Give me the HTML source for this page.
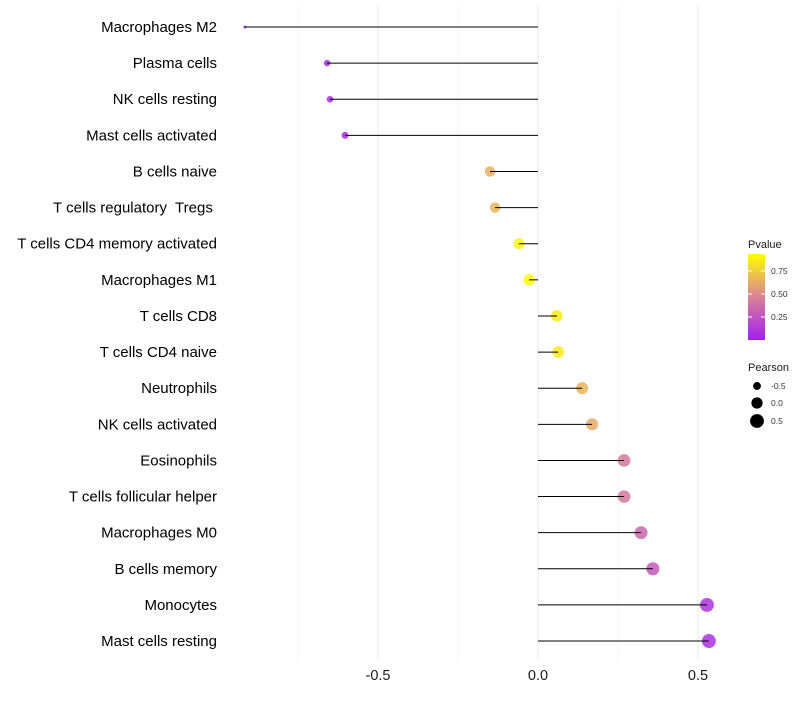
<!DOCTYPE html>
<html><head><meta charset="utf-8"><style>body{margin:0;background:#fff}svg{font-family:"Liberation Sans",sans-serif}</style></head>
<body>
<svg id="c" width="800" height="700"></svg>
<script>
const categories=["Macrophages M2","Plasma cells","NK cells resting","Mast cells activated","B cells naive","T cells regulatory  Tregs ","T cells CD4 memory activated","Macrophages M1","T cells CD8","T cells CD4 naive","Neutrophils","NK cells activated","Eosinophils","T cells follicular helper","Macrophages M0","B cells memory","Monocytes","Mast cells resting"];
const pearson=[-0.916,-0.659,-0.65,-0.603,-0.15,-0.134,-0.059,-0.028,0.059,0.063,0.138,0.169,0.269,0.269,0.322,0.359,0.528,0.534];
const pvalue=[0.02,0.06,0.06,0.07,0.68,0.7,0.95,0.99,0.92,0.92,0.7,0.66,0.45,0.45,0.36,0.3,0.1,0.09];
const xTicks=[-0.5,0,0.5];
const xTickLabels=["-0.5","0.0","0.5"];
const gridVals=[-0.75,-0.5,-0.25,0,0.25,0.5];
const NS="http://www.w3.org/2000/svg",svg=document.getElementById("c");
const X=v=>538+320*v, Y=i=>27+i*36.12;
function col(p){const s=[[0,[160,32,240]],[0.5,[218,130,150]],[1,[255,255,0]]];let a=s[0],b=s[1];if(p>0.5){a=s[1];b=s[2];}const t=(p-a[0])/(b[0]-a[0]);const c=a[1].map((v,k)=>Math.round(v+(b[1][k]-v)*t));return`rgb(${c})`;}
const R=p=>Math.sqrt(Math.max(1,2.25+32.2*(p+0.916)));
function el(t,a){const e=document.createElementNS(NS,t);for(const k in a)e.setAttribute(k,a[k]);svg.appendChild(e);return e;}
gridVals.forEach(v=>{const g=el("line",{x1:X(v),x2:X(v),y1:5,y2:660,stroke:Number.isInteger(v*2)?"#ebebeb":"#f4f4f4","stroke-width":1});

});
xTicks.forEach((v,i)=>{const t=el("text",{x:X(v),y:680,"font-size":14.5,"text-anchor":"middle",fill:"#1a1a1a"});t.textContent=xTickLabels[i];

});
categories.forEach((c,i)=>{
const t=el("text",{x:217,y:Y(i)+5,"font-size":15,"text-anchor":"end",fill:"#000"});t.textContent=c;t.style.whiteSpace="pre";


const d=el("circle",{cx:X(pearson[i]),cy:Y(i),r:R(pearson[i]),fill:col(pvalue[i]),"fill-opacity":0.85});


const l=el("line",{x1:X(0),x2:X(pearson[i]),y1:Y(i),y2:Y(i),stroke:"#000","stroke-width":1});


});
const defs=el("defs",{});defs.innerHTML='<linearGradient id="g" x1="0" y1="1" x2="0" y2="0"><stop offset="0" stop-color="#a020f0"/><stop offset="0.5" stop-color="#da8296"/><stop offset="1" stop-color="#ffff00"/></linearGradient>';
let t=el("text",{x:748,y:248,"font-size":11,fill:"#1a1a1a"});t.textContent="Pvalue";


const bar=el("rect",{x:748,y:254,width:17,height:86,fill:"url(#g)"});


[[0.75,271],[0.5,294],[0.25,317]].forEach(([v,y])=>{el("line",{x1:748,x2:752,y1:y,y2:y,stroke:"#fff"});el("line",{x1:761,x2:765,y1:y,y2:y,stroke:"#fff"});
const tt=el("text",{x:771,y:y+3,"font-size":8.5,fill:"#333"});tt.textContent=v.toFixed(2);

});
t=el("text",{x:748,y:371,"font-size":11,fill:"#1a1a1a"});t.textContent="Pearson";


[[-0.5,386],[0,403],[0.5,421]].forEach(([v,y])=>{const c=el("circle",{cx:757,cy:y,r:R(v),fill:"#000"});


const tt=el("text",{x:771,y:y+3,"font-size":8.5,fill:"#333"});tt.textContent=v.toFixed(1);

});
</script>
</body></html>
